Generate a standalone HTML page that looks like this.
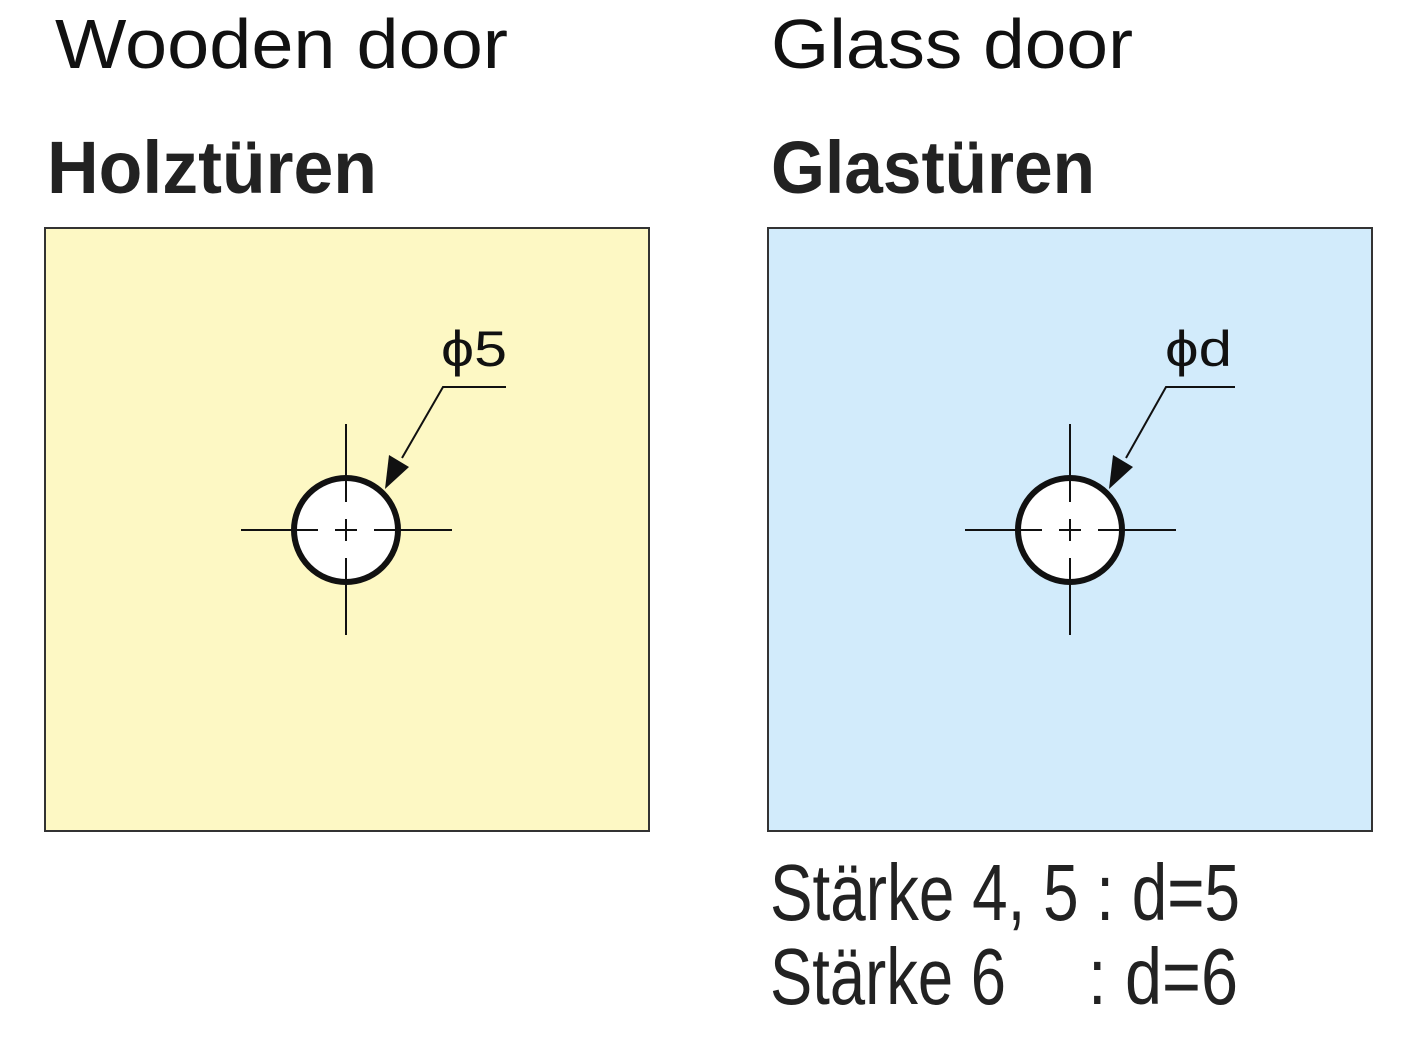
<!DOCTYPE html>
<html><head><meta charset="utf-8"><style>html,body{margin:0;padding:0;background:#fff;}</style></head>
<body>
<svg width="1424" height="1042" viewBox="0 0 1424 1042" xmlns="http://www.w3.org/2000/svg" font-family="Liberation Sans, sans-serif">
<text x="55" y="68" font-size="70" textLength="453" lengthAdjust="spacingAndGlyphs" fill="#111">Wooden door</text>
<text x="771" y="68" font-size="70" textLength="362" lengthAdjust="spacingAndGlyphs" fill="#111">Glass door</text>
<text x="47" y="193" font-size="74" font-weight="bold" textLength="330" lengthAdjust="spacingAndGlyphs" fill="#222">Holztüren</text>
<text x="771" y="193" font-size="74" font-weight="bold" textLength="324" lengthAdjust="spacingAndGlyphs" fill="#222">Glastüren</text>
<rect x="45" y="228" width="604" height="603" fill="#fdf8c4" stroke="#333" stroke-width="2"/>
<rect x="768" y="228" width="604" height="603" fill="#d2ebfb" stroke="#333" stroke-width="2"/>
<g stroke="#111" fill="none">
 <g id="a">
  <line x1="241" y1="530" x2="293" y2="530" stroke-width="2"/>
  <line x1="399" y1="530" x2="452" y2="530" stroke-width="2"/>
  <line x1="346" y1="424" x2="346" y2="477" stroke-width="2"/>
  <line x1="346" y1="583" x2="346" y2="635" stroke-width="2"/>
 </g>
 <circle cx="346" cy="530" r="52" fill="#fff" stroke-width="6"/>
 <line x1="293" y1="530" x2="399" y2="530" stroke-width="2" stroke-dasharray="25 17 22 17 25"/>
 <line x1="346" y1="477" x2="346" y2="583" stroke-width="2" stroke-dasharray="25 17 22 17 25"/>
 <polyline points="402,458 443,387 506,387" stroke-width="2"/>
 <line x1="965" y1="530" x2="1017" y2="530" stroke-width="2"/>
 <line x1="1123" y1="530" x2="1176" y2="530" stroke-width="2"/>
 <line x1="1070" y1="424" x2="1070" y2="477" stroke-width="2"/>
 <line x1="1070" y1="583" x2="1070" y2="635" stroke-width="2"/>
 <circle cx="1070" cy="530" r="52" fill="#fff" stroke-width="6"/>
 <line x1="1017" y1="530" x2="1123" y2="530" stroke-width="2" stroke-dasharray="25 17 22 17 25"/>
 <line x1="1070" y1="477" x2="1070" y2="583" stroke-width="2" stroke-dasharray="25 17 22 17 25"/>
 <polyline points="1126,458 1166,387 1235,387" stroke-width="2"/>
</g>
<polygon points="385,489 389,455 409,467" fill="#111"/>
<polygon points="1109,489 1113,455 1133,467" fill="#111"/>
<text x="441" y="366" font-size="50" textLength="66" lengthAdjust="spacingAndGlyphs" fill="#111">ϕ5</text>
<text x="1165" y="366" font-size="50" textLength="67" lengthAdjust="spacingAndGlyphs" fill="#111">ϕd</text>
<text x="770" y="920" font-size="80" font-family="Liberation Sans Narrow, Liberation Sans, sans-serif" textLength="470" lengthAdjust="spacingAndGlyphs" fill="#222">Stärke 4, 5 : d=5</text>
<text x="770" y="1004" font-size="80" font-family="Liberation Sans Narrow, Liberation Sans, sans-serif" textLength="236" lengthAdjust="spacingAndGlyphs" fill="#222">Stärke 6</text>
<text x="1088" y="1004" font-size="80" font-family="Liberation Sans Narrow, Liberation Sans, sans-serif" textLength="150" lengthAdjust="spacingAndGlyphs" fill="#222">: d=6</text>
</svg>
</body></html>
